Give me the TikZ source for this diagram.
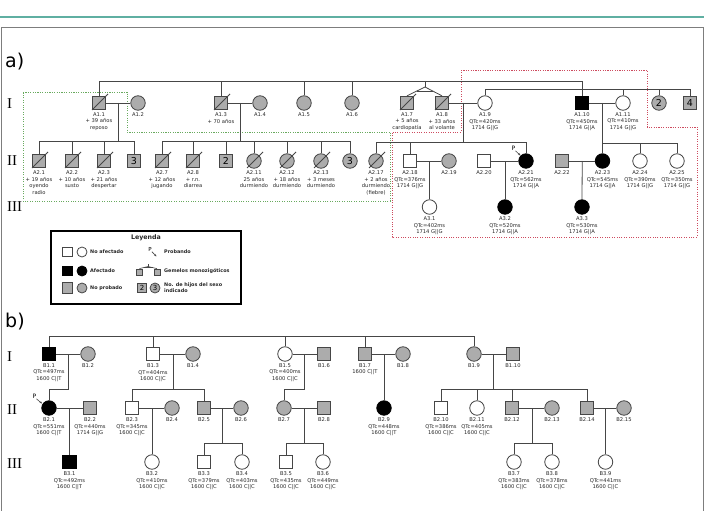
\documentclass[tikz,border=0pt]{standalone}
\usepackage{fontspec}
\setmainfont{DejaVu Sans}
\newfontfamily\romanfont{Liberation Serif}
\usetikzlibrary{calc,arrows.meta}
\definecolor{lc}{RGB}{70,70,70}
\definecolor{pg}{RGB}{172,172,172}
\definecolor{tealline}{RGB}{95,175,162}
\definecolor{frm}{RGB}{125,125,125}
\definecolor{redd}{RGB}{205,75,95}
\definecolor{grnd}{RGB}{105,170,95}
\tikzset{
  base/.style={draw=lc, line width=0.8pt, inner sep=0pt},
  sq/.style={base, rectangle, minimum size=13.5pt},
  ci/.style={base, circle, minimum size=14.5pt},
  un/.style={fill=white},
  af/.style={fill=black, draw=black},
  np/.style={fill=pg},
  lbl/.style={font=\fontsize{5.2}{6.5}\selectfont, align=center, inner sep=0pt, text=black!85},
  ln/.style={draw=lc, line width=0.8pt},
  gen/.style={font=\romanfont\fontsize{15}{15}\selectfont, anchor=west, inner sep=0pt},
  numf/.style={font=\fontsize{9.5}{9.5}\selectfont},
  lgt/.style={font=\bfseries\fontsize{4.9}{6}\selectfont, anchor=west, inner sep=0pt, align=left, text=black!85},
  lsq/.style={base, rectangle, minimum size=9.5pt},
  lci/.style={base, circle, minimum size=10pt},
  parr/.style={draw=lc, line width=0.6pt, -{Stealth[length=2.5pt,width=2.2pt]}},
  dotr/.style={draw=redd, line width=0.9pt, dash pattern=on 1.1pt off 1.3pt},
  dotg/.style={draw=grnd, line width=0.9pt, dash pattern=on 1.1pt off 1.3pt}
}
\newcommand\pp[5]{\node[#4] (#1) at (#2,#3) {}; \node[lbl, anchor=north] (#1t) at (#2,#3+9.5) {#5};}
\newcommand\dead[1]{\draw[ln] ($(#1.center)+(-7,7)$) -- ($(#1.center)+(9,-9)$);}
\newcommand\drop[2]{\draw[ln] (#1.north) -- (#1.north |- #2);}
\begin{document}
\begin{tikzpicture}[x=1pt,y=-1pt]
\useasboundingbox (0,0) rectangle (705,511);
% header and frame
\draw[tealline, line width=2pt] (0,17) -- (704,17);
\draw[frm, line width=0.8pt] (1.5,520) -- (1.5,27.5) -- (703,27.5) -- (703,520);
\node[font=\fontsize{19}{19}\selectfont, anchor=base west, inner sep=0pt] (la) at (5,68) {a)};
\node[font=\fontsize{19}{19}\selectfont, anchor=base west, inner sep=0pt] (lb) at (5,327) {b)};
\node[gen] (ga1) at (7,104) {I};
\node[gen] (ga2) at (7,161) {II};
\node[gen] (ga3) at (7,207) {III};
\node[gen] (gb1) at (7,357) {I};
\node[gen] (gb2) at (7,410) {II};
\node[gen] (gb3) at (7,464) {III};
% dotted boxes
\draw[dotg] (23,92) -- (127,92) -- (127,132) -- (390,132) -- (390,201) -- (23,201) -- cycle;
\draw[dotr] (461,70) -- (647,70) -- (647,127) -- (697,127) -- (697,237) -- (392,237) -- (392,132) -- (461,132) -- cycle;

% ===== part a) generation I
\pp{a1-1}{99}{103}{sq,np}{A1.1\\+ 39 años\\reposo}
\pp{a1-2}{138}{103}{ci,np}{A1.2}
\pp{a1-3}{221}{103}{sq,np}{A1.3\\+ 70 años}
\pp{a1-4}{260}{103}{ci,np}{A1.4}
\pp{a1-5}{304}{103}{ci,np}{A1.5}
\pp{a1-6}{352}{103}{ci,np}{A1.6}
\pp{a1-7}{407}{103}{sq,np}{A1.7\\+ 5 años\\cardiopatía}
\pp{a1-8}{442}{103}{sq,np}{A1.8\\+ 33 años\\al volante}
\pp{a1-9}{485}{103}{ci,un}{A1.9\\QTc=420ms\\1714 G||G}
\pp{a1-10}{582}{103}{sq,af}{A1.10\\QTc=450ms\\1714 G||A}
\pp{a1-11}{623}{103}{ci,un}{A1.11\\QTc=410ms\\1714 G||G}
\node[ci,np,numf] (c2) at (659,103) {2};
\node[sq,np,numf] (s4) at (690,103) {4};
\dead{a1-1}\dead{a1-3}\dead{a1-7}\dead{a1-8}
% top sibship bars
\coordinate (tA) at (0,81);
\coordinate (tB) at (0,89);
\draw[ln] (a1-1.north) -- (a1-1.north |- tA) -- (a1-10.north |- tA) -- (a1-10.north);
\drop{a1-3}{tA}\drop{a1-5}{tA}\drop{a1-6}{tA}
\coordinate (tw0) at (425,81);
\coordinate (tw) at (425,87);
\draw[ln] (tw0) -- (tw);
\draw[ln] (tw) -- (a1-7.north);
\draw[ln] (tw) -- (a1-8.north);
\draw[ln] ($(tw)!0.45!(a1-7.north)$) -- ($(tw)!0.45!(a1-8.north)$);
\draw[ln] (a1-9.north) -- (a1-9.north |- tB) -- (s4.north |- tB) -- (s4.north);
\drop{a1-11}{tB}\drop{c2}{tB}
% marriages gen I
\draw[ln] (a1-1) -- (a1-2);
\draw[ln] (a1-3) -- (a1-4);
\draw[ln] (a1-8) -- (a1-9);
\draw[ln] (a1-10) -- (a1-11);
\coordinate (m11) at ($(a1-1)!0.5!(a1-2)$);
\coordinate (m13) at ($(a1-3)!0.5!(a1-4)$);
\coordinate (m18) at ($(a1-8)!0.5!(a1-9)$);
\coordinate (m110) at ($(a1-10)!0.5!(a1-11)$);

% ===== part a) generation II
\pp{a2-1}{39}{161}{sq,np}{A2.1\\+ 19 años\\oyendo\\radio}
\pp{a2-2}{72}{161}{sq,np}{A2.2\\+ 10 años\\susto}
\pp{a2-3}{104}{161}{sq,np}{A2.3\\+ 21 años\\despertar}
\node[sq,np,numf] (s3) at (134,161) {3};
\pp{a2-7}{162}{161}{sq,np}{A2.7\\+ 12 años\\jugando}
\pp{a2-8}{193}{161}{sq,np}{A2.8\\+ r.n.\\diarrea}
\node[sq,np,numf] (s2) at (226,161) {2};
\pp{a2-11}{254}{161}{ci,np}{A2.11\\25 años\\durmiendo}
\pp{a2-12}{287}{161}{ci,np}{A2.12\\+ 18 años\\durmiendo}
\pp{a2-13}{321}{161}{ci,np}{A2.13\\+ 3 meses\\durmiendo}
\node[ci,np,numf] (c3) at (350,161) {3};
\pp{a2-17}{376}{161}{ci,np}{A2.17\\+ 2 años\\durmiendo\\(fiebre)}
\pp{a2-18}{410}{161}{sq,un}{A2.18\\QTc=376ms\\1714 G||G}
\pp{a2-19}{449}{161}{ci,np}{A2.19}
\pp{a2-20}{484}{161}{sq,un}{A2.20}
\pp{a2-21}{526}{161}{ci,af}{A2.21\\QTc=562ms\\1714 G||A}
\pp{a2-22}{562}{161}{sq,np}{A2.22}
\pp{a2-23}{602.5}{161}{ci,af}{A2.23\\QTc=545ms\\1714 G||A}
\pp{a2-24}{640}{161}{ci,un}{A2.24\\QTc=390ms\\1714 G||G}
\pp{a2-25}{677}{161}{ci,un}{A2.25\\QTc=350ms\\1714 G||G}
\dead{a2-1}\dead{a2-2}\dead{a2-3}\dead{a2-7}\dead{a2-8}
\dead{a2-11}\dead{a2-12}\dead{a2-13}\dead{a2-17}
% sibship bars gen II
\coordinate (sA1) at (0,141);
\coordinate (sA2) at (0,142);
\coordinate (sA3) at (0,143);
\draw[ln] (m11) -- (m11 |- sA1);
\draw[ln] (a2-1.north |- sA1) -- (s3.north |- sA1);
\drop{a2-1}{sA1}\drop{a2-2}{sA1}\drop{a2-3}{sA1}\drop{s3}{sA1}
\draw[ln] (m13) -- (m13 |- sA1);
\draw[ln] (a2-7.north |- sA1) -- (c3.north |- sA1);
\drop{a2-7}{sA1}\drop{a2-8}{sA1}\drop{s2}{sA1}\drop{a2-11}{sA1}\drop{a2-12}{sA1}\drop{a2-13}{sA1}\drop{c3}{sA1}
\draw[ln] (m18) -- (m18 |- sA2);
\draw[ln] (a2-17.north |- sA2) -- (a2-21.north |- sA2);
\drop{a2-17}{sA2}\drop{a2-18}{sA2}\drop{a2-21}{sA2}
\draw[ln] (m110) -- (a2-23.north);
\draw[ln] (a2-23.north |- sA3) -- (a2-25.north |- sA3);
\drop{a2-24}{sA3}\drop{a2-25}{sA3}
% marriages gen II
\draw[ln] (a2-18) -- (a2-19);
\draw[ln] (a2-20) -- (a2-21);
\draw[ln] (a2-22) -- (a2-23);
\coordinate (m218) at ($(a2-18)!0.5!(a2-19)$);
\coordinate (m220) at ($(a2-20)!0.5!(a2-21)$);
\coordinate (m222) at ($(a2-22)!0.5!(a2-23)$);
% proband a
\node[font=\fontsize{6}{6}\selectfont, inner sep=0pt] (pa) at (513.5,148.5) {P};
\coordinate (pa2) at (520.5,155.5);
\draw[parr] ($(pa.south east)+(0,0)$) -- (pa2);

% ===== part a) generation III
\pp{a3-1}{429.5}{207}{ci,un}{A3.1\\QTc=402ms\\1714 G||G}
\pp{a3-2}{505}{207}{ci,af}{A3.2\\QTc=520ms\\1714 G||A}
\pp{a3-3}{582}{207}{ci,af}{A3.3\\QTc=530ms\\1714 G||A}
\draw[ln] (m218) -- (a3-1.north);
\draw[ln] (m220) -- (a3-2.north);
\draw[ln] (m222) -- (a3-3.north);

% ===== legend
\node[draw=black, line width=1.1pt, minimum width=190pt, minimum height=73pt, inner sep=0pt] (leg) at (146,267.5) {};
\node[font=\bfseries\fontsize{6.3}{6.3}\selectfont, inner sep=0pt, text=black!85] (legt) at (146,237.5) {Leyenda};
\node[lsq,un] (lg1) at (67.5,252) {};
\node[lci,un] (lg2) at (82,252) {};
\node[lgt] (lg3) at (90,252) {No afectado};
\node[lsq,af] (lg4) at (67.5,271) {};
\node[lci,af] (lg5) at (82,271) {};
\node[lgt] (lg6) at (90,271) {Afectado};
\node[lsq,np,minimum size=10.5pt] (lg7) at (67.5,288) {};
\node[lci,np] (lg8) at (82,288) {};
\node[lgt] (lg9) at (90,288) {No probado};
\node[font=\fontsize{5.5}{5.5}\selectfont, inner sep=0pt] (lgp) at (150,249.5) {P};
\coordinate (lgp2) at (156.5,256.5);
\draw[parr] (lgp.south east) -- (lgp2);
\node[lgt] (lgpt) at (164,252) {Probando};
\node[base, rectangle, fill=pg, minimum size=6pt] (lt1) at (139.5,272) {};
\node[base, rectangle, fill=pg, minimum size=6pt] (lt2) at (157,272) {};
\coordinate (lta) at (148,264);
\coordinate (ltb) at (148,266.5);
\draw[ln, line width=0.6pt] (lta) -- (ltb);
\draw[ln, line width=0.6pt] (ltb) -- (lt1.north);
\draw[ln, line width=0.6pt] (ltb) -- (lt2.north);
\draw[ln, line width=0.6pt] ($(ltb)!0.5!(lt1.north)$) -- ($(ltb)!0.5!(lt2.north)$);
\node[lgt] (ltt) at (164,271) {Gemelos monozigóticos};
\node[lsq,np,font=\fontsize{7}{7}\selectfont] (ln2) at (142,288) {2};
\node[lci,np,font=\fontsize{7}{7}\selectfont] (ln3) at (155,288) {3};
\node[lgt] (lnt) at (164,288) {No. de hijos del sexo\\indicado};

% ===== part b) generation I
\pp{b1-1}{49}{354}{sq,af}{B1.1\\QTc=497ms\\1600 C||T}
\pp{b1-2}{88}{354}{ci,np}{B1.2}
\pp{b1-3}{153}{354}{sq,un}{B1.3\\QT=404ms\\1600 C||C}
\pp{b1-4}{193}{354}{ci,np}{B1.4}
\pp{b1-5}{285}{354}{ci,un}{B1.5\\QTc=400ms\\1600 C||C}
\pp{b1-6}{324}{354}{sq,np}{B1.6}
\pp{b1-7}{365}{354}{sq,np}{B1.7\\1600 C||T}
\pp{b1-8}{403}{354}{ci,np}{B1.8}
\pp{b1-9}{474}{354}{ci,np}{B1.9}
\pp{b1-10}{513}{354}{sq,np}{B1.10}
\coordinate (tC) at (0,336);
\draw[ln] (b1-1.north) -- (b1-1.north |- tC) -- (b1-9.north |- tC) -- (b1-9.north);
\drop{b1-3}{tC}\drop{b1-5}{tC}\drop{b1-7}{tC}
\draw[ln] (b1-1) -- (b1-2);
\draw[ln] (b1-3) -- (b1-4);
\draw[ln] (b1-5) -- (b1-6);
\draw[ln] (b1-7) -- (b1-8);
\draw[ln] (b1-9) -- (b1-10);
\coordinate (n11) at ($(b1-1)!0.5!(b1-2)$);
\coordinate (n13) at ($(b1-3)!0.5!(b1-4)$);
\coordinate (n15) at ($(b1-5)!0.5!(b1-6)$);
\coordinate (n17) at ($(b1-7)!0.5!(b1-8)$);
\coordinate (n19) at ($(b1-9)!0.5!(b1-10)$);

% ===== part b) generation II
\pp{b2-1}{49}{408}{ci,af}{B2.1\\QTc=551ms\\1600 C||T}
\pp{b2-2}{90}{408}{sq,np}{B2.2\\QTc=440ms\\1714 G||G}
\pp{b2-3}{132}{408}{sq,un}{B2.3\\QTc=345ms\\1600 C||C}
\pp{b2-4}{172}{408}{ci,np}{B2.4}
\pp{b2-5}{204}{408}{sq,np}{B2.5}
\pp{b2-6}{241}{408}{ci,np}{B2.6}
\pp{b2-7}{284}{408}{ci,np}{B2.7}
\pp{b2-8}{324}{408}{sq,np}{B2.8}
\pp{b2-9}{384}{408}{ci,af}{B2.9\\QTc=448ms\\1600 C||T}
\pp{b2-10}{441}{408}{sq,un}{B2.10\\QTc=386ms\\1600 C||C}
\pp{b2-11}{477}{408}{ci,un}{B2.11\\QTc=405ms\\1600 C||C}
\pp{b2-12}{512}{408}{sq,np}{B2.12}
\pp{b2-13}{552}{408}{ci,np}{B2.13}
\pp{b2-14}{587}{408}{sq,np}{B2.14}
\pp{b2-15}{624}{408}{ci,np}{B2.15}
\coordinate (sB) at (0,389);
\draw[ln] (n11) -- (n11 |- sB) -- (b2-1.north |- sB) -- (b2-1.north);
\draw[ln] (n13) -- (n13 |- sB);
\draw[ln] (b2-3.north |- sB) -- (b2-5.north |- sB);
\drop{b2-3}{sB}\drop{b2-5}{sB}
\draw[ln] (n15) -- (n15 |- sB) -- (b2-7.north |- sB) -- (b2-7.north);
\draw[ln] (n17) -- (b2-9.north);
\draw[ln] (n19) -- (n19 |- sB);
\draw[ln] (b2-10.north |- sB) -- (b2-14.north |- sB);
\drop{b2-10}{sB}\drop{b2-11}{sB}\drop{b2-12}{sB}\drop{b2-14}{sB}
\draw[ln] (b2-1) -- (b2-2);
\draw[ln] (b2-3) -- (b2-4);
\draw[ln] (b2-5) -- (b2-6);
\draw[ln] (b2-7) -- (b2-8);
\draw[ln] (b2-12) -- (b2-13);
\draw[ln] (b2-14) -- (b2-15);
\coordinate (n21) at ($(b2-1)!0.5!(b2-2)$);
\coordinate (n23) at ($(b2-3)!0.5!(b2-4)$);
\coordinate (n25) at ($(b2-5)!0.5!(b2-6)$);
\coordinate (n27) at ($(b2-7)!0.5!(b2-8)$);
\coordinate (n212) at ($(b2-12)!0.5!(b2-13)$);
\coordinate (n214) at ($(b2-14)!0.5!(b2-15)$);
% proband b
\node[font=\fontsize{6}{6}\selectfont, inner sep=0pt] (pb) at (34.5,396.5) {P};
\coordinate (pb2) at (42,403.5);
\draw[parr] (pb.south east) -- (pb2);

% ===== part b) generation III
\pp{b3-1}{69.5}{462}{sq,af}{B3.1\\QTc=492ms\\1600 C||T}
\pp{b3-2}{152}{462}{ci,un}{B3.2\\QTc=410ms\\1600 C||C}
\pp{b3-3}{204}{462}{sq,un}{B3.3\\QTc=379ms\\1600 C||C}
\pp{b3-4}{242}{462}{ci,un}{B3.4\\QTc=403ms\\1600 C||C}
\pp{b3-5}{286}{462}{sq,un}{B3.5\\QTc=435ms\\1600 C||C}
\pp{b3-6}{323}{462}{ci,un}{B3.6\\QTc=449ms\\1600 C||C}
\pp{b3-7}{514}{462}{ci,un}{B3.7\\QTc=383ms\\1600 C||C}
\pp{b3-8}{552}{462}{ci,un}{B3.8\\QTc=378ms\\1600 C||C}
\pp{b3-9}{605.5}{462}{ci,un}{B3.9\\QTc=441ms\\1600 C||C}
\coordinate (sC) at (0,443);
\draw[ln] (n21) -- (b3-1.north);
\draw[ln] (n23) -- (b3-2.north);
\draw[ln] (n25) -- (n25 |- sC);
\draw[ln] (b3-3.north |- sC) -- (b3-4.north |- sC);
\drop{b3-3}{sC}\drop{b3-4}{sC}
\draw[ln] (n27) -- (n27 |- sC);
\draw[ln] (b3-5.north |- sC) -- (b3-6.north |- sC);
\drop{b3-5}{sC}\drop{b3-6}{sC}
\draw[ln] (n212) -- (n212 |- sC);
\draw[ln] (b3-7.north |- sC) -- (b3-8.north |- sC);
\drop{b3-7}{sC}\drop{b3-8}{sC}
\draw[ln] (n214) -- (b3-9.north);
\end{tikzpicture}
\end{document}
